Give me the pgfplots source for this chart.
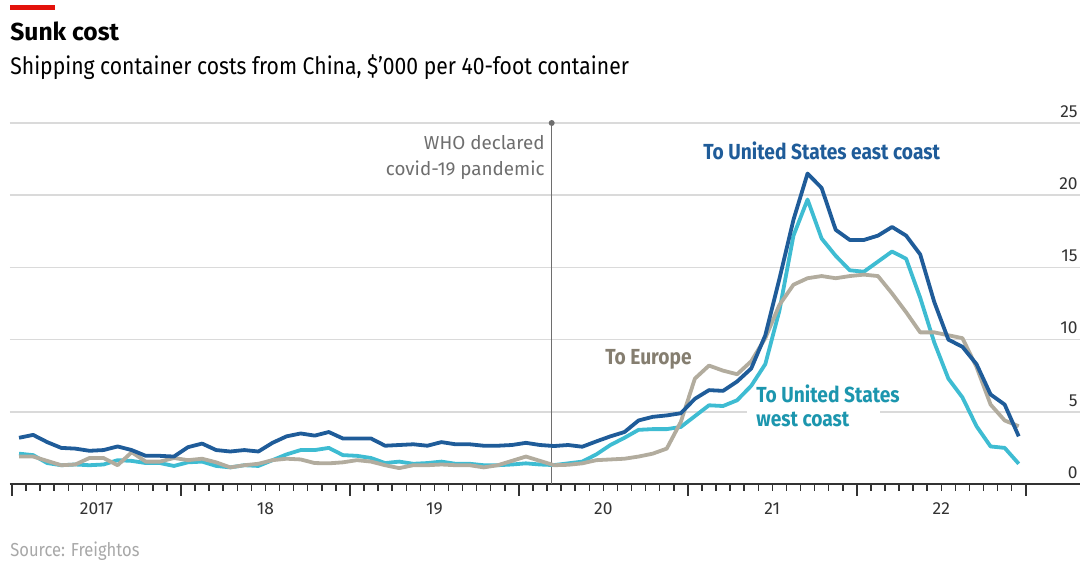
\documentclass[border=0pt]{standalone}
\usepackage{fontspec}
\setmainfont{Fira Sans}[FakeStretch=0.88]
\newfontfamily\plainfont{Fira Sans}
\usepackage{pgfplots}
\pgfplotsset{compat=1.18}
\usepackage{pgfplotstable}
\definecolor{eastc}{HTML}{1F5C99}
\definecolor{westc}{HTML}{3EBCD2}
\definecolor{eurc}{HTML}{B2AC9E}
\definecolor{westlab}{HTML}{1C96AE}
\definecolor{eurlab}{HTML}{857E70}
\definecolor{ered}{HTML}{E3120B}
\definecolor{gridc}{HTML}{DADADA}
\definecolor{axisc}{HTML}{333333}
\definecolor{whoc}{HTML}{6E6E6E}
\definecolor{srcc}{HTML}{A8A8A8}
\pgfplotstableread{
x east west eur
0.5 3.20 2.10 1.90
1.5 3.40 2.00 1.90
2.5 2.90 1.45 1.60
3.5 2.50 1.30 1.30
4.5 2.45 1.35 1.35
5.5 2.30 1.30 1.80
6.5 2.35 1.35 1.80
7.5 2.60 1.65 1.30
8.5 2.35 1.60 2.20
9.5 1.95 1.45 1.55
10.5 1.95 1.45 1.55
11.5 1.90 1.25 1.80
12.5 2.55 1.50 1.65
13.5 2.80 1.55 1.75
14.5 2.35 1.25 1.50
15.5 2.25 1.15 1.15
16.5 2.35 1.30 1.30
17.5 2.25 1.25 1.40
18.5 2.85 1.65 1.65
19.5 3.30 2.05 1.75
20.5 3.50 2.35 1.70
21.5 3.35 2.35 1.45
22.5 3.60 2.50 1.43
23.5 3.15 2.00 1.50
24.5 3.15 1.95 1.65
25.5 3.15 1.80 1.55
26.5 2.65 1.45 1.30
27.5 2.70 1.55 1.10
28.5 2.75 1.40 1.30
29.5 2.65 1.45 1.30
30.5 2.90 1.55 1.35
31.5 2.75 1.40 1.30
32.5 2.75 1.40 1.30
33.5 2.65 1.30 1.15
34.5 2.65 1.30 1.30
35.5 2.70 1.35 1.60
36.5 2.85 1.43 1.90
37.5 2.70 1.35 1.60
38.5 2.63 1.31 1.30
39.5 2.70 1.43 1.33
40.5 2.58 1.55 1.43
41.5 2.95 2.05 1.65
42.5 3.30 2.70 1.70
43.5 3.60 3.20 1.75
44.5 4.40 3.75 1.90
45.5 4.65 3.80 2.10
46.5 4.75 3.80 2.45
47.5 4.90 3.95 4.30
48.5 5.90 4.70 7.30
49.5 6.50 5.45 8.20
50.5 6.45 5.40 7.85
51.5 7.10 5.80 7.60
52.5 8.00 6.80 8.50
53.5 10.30 8.30 10.10
54.5 14.20 12.00 12.40
55.5 18.30 17.20 13.80
56.5 21.50 19.70 14.25
57.5 20.50 17.00 14.40
58.5 17.60 15.80 14.25
59.5 16.90 14.80 14.40
60.5 16.90 14.70 14.50
61.5 17.20 15.40 14.40
62.5 17.80 16.10 13.20
63.5 17.20 15.60 11.90
64.5 15.90 12.90 10.50
65.5 12.60 9.80 10.50
66.5 10.00 7.30 10.30
67.5 9.50 6.00 10.10
68.5 8.30 4.00 8.10
69.5 6.20 2.60 5.50
70.5 5.50 2.50 4.40
71.5 3.30 1.40 4.00
}\data
\begin{document}
\begin{tikzpicture}
\path[use as bounding box] (-5pt,-39pt) rectangle (537pt,242pt);
\begin{axis}[
  at={(0,0)}, anchor=south west,
  width=535pt, height=180.5pt, scale only axis,
  xmin=-0.142, xmax=75.85, ymin=0, ymax=25,
  axis x line*=bottom, axis y line*=right,
  y axis line style={draw=none},
  x axis line style={line width=1pt, color=axisc},
  ytick={0,5,...,25},
  ymajorgrids, grid style={line width=0.8pt, color=gridc},
  ytick style={draw=none},
  yticklabel style={anchor=south east, inner sep=0pt, xshift=-7pt, yshift=2.5pt, font=\plainfont\fontsize{8.7}{10}\selectfont, text=axisc},
  xtick={0,12,...,72}, xticklabels={},
  minor x tick num=11,
  tick align=outside,
  major tick length=6pt, minor tick length=3.5pt,
  tick style={color=axisc, line width=0.75pt},
  extra x ticks={6,18,30,42,54,66},
  extra x tick labels={2017,18,19,20,21,22},
  extra x tick style={major tick length=0pt, tick style={draw=none},
    xticklabel style={anchor=north, inner sep=0pt, yshift=-9pt, font=\plainfont\fontsize{8.7}{10}\selectfont, text=axisc}},
  clip=false,
  /pgf/number format/assume math mode=true,
]
\draw[whoc, line width=0.6pt] (axis cs:38.33,0) -- (axis cs:38.33,25);
\fill[whoc] (axis cs:38.33,25) circle (1.5pt);
\addplot[westc, line width=1.9pt, line join=round] table[x=x, y=west] {\data};
\addplot[eurc, line width=1.9pt, line join=round] table[x=x, y=eur] {\data};
\addplot[eastc, line width=1.9pt, line join=round] table[x=x, y=east] {\data};
\end{axis}
\fill[white] (368.5pt,34pt) rectangle (435pt,38.5pt);
\fill[ered] (0pt,237pt) rectangle (22.5pt,239.5pt);
\node[anchor=base west, inner sep=0pt, font=\plainfont\bfseries\fontsize{12.3}{14}\selectfont] at (0pt,221.7pt) {Sunk cost};
\node[anchor=base west, inner sep=0pt, font=\fontsize{12}{14}\selectfont] at (0pt,204.5pt) {Shipping container costs from China, \$’000 per 40-foot container};
\node[anchor=base west, inner sep=0pt, font=\fontsize{9.4}{11}\selectfont, text=srcc] at (0pt,-36.5pt) {Source: Freightos};
\node[anchor=base east, inner sep=0pt, font=\plainfont\fontsize{9.4}{11}\selectfont, text=whoc] at (267.5pt,167pt) {WHO declared};
\node[anchor=base east, inner sep=0pt, font=\plainfont\fontsize{9.4}{11}\selectfont, text=whoc] at (267.5pt,154pt) {covid-19 pandemic};
\node[anchor=base west, inner sep=0pt, font=\bfseries\fontsize{10.9}{13}\selectfont, text=eastc] at (346.5pt,162pt) {To United States east coast};
\node[anchor=base west, inner sep=0pt, font=\bfseries\fontsize{10.9}{13}\selectfont, text=eurlab] at (297.5pt,59.5pt) {To Europe};
\node[anchor=base west, inner sep=0pt, font=\bfseries\fontsize{10.9}{13}\selectfont, text=westlab] at (373pt,40.7pt) {To United States};
\node[anchor=base west, inner sep=0pt, font=\bfseries\fontsize{10.9}{13}\selectfont, text=westlab] at (373pt,28.7pt) {west coast};
\end{tikzpicture}
\end{document}
